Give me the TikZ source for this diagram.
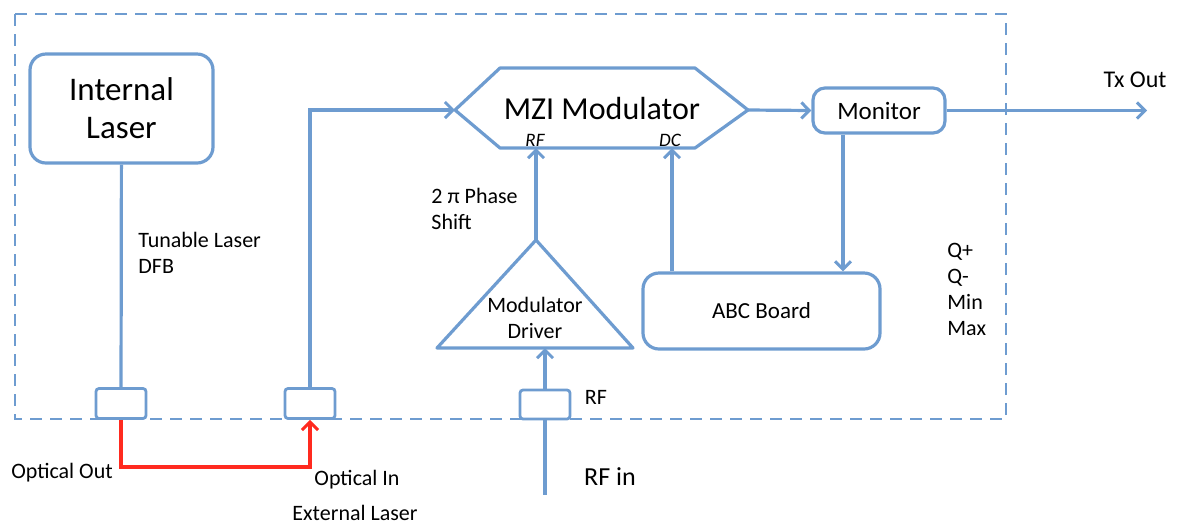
\documentclass[tikz,border=0pt]{standalone}
\usepackage{fontspec}
\setmainfont{Carlito}
\usetikzlibrary{arrows.meta,positioning,calc}
\definecolor{lnBlue}{HTML}{6E9CD0}
\definecolor{lnRed}{HTML}{FF2A1F}

\begin{document}
\begin{tikzpicture}[x=0.5pt, y=-0.5pt,
  blk/.style={draw=lnBlue, line width=1.6pt, rounded corners=8pt, align=center, inner sep=0pt},
  port/.style={draw=lnBlue, line width=1.4pt, rounded corners=1.5pt, minimum width=25pt, minimum height=15pt, inner sep=0pt},
  wire/.style={line width=1.6pt, lnBlue},
  arr/.style={wire, -{Straight Barb[length=4pt, width=8pt, line width=1.5pt]}},
  lbl/.style={font=\fontsize{11}{13}\selectfont, align=left, inner sep=0pt},
  frm/.style={draw=lnBlue, line width=1.2pt, dash pattern=on 6pt off 4pt}]
\useasboundingbox (0,0) rectangle (1178,527);
\draw[frm] (15,14) rectangle (1006,419);

% blocks
\node[blk, minimum width=91.5pt, minimum height=54.5pt, font=\fontsize{16.5}{19}\selectfont] (laser) at (121.5,108.5) {Internal\\Laser};
\node[blk, minimum width=66pt, minimum height=22.5pt, rounded corners=6pt, font=\fontsize{12.5}{14}\selectfont] (mon) at (879,110.5) {Monitor};
\node[blk, minimum width=118.5pt, minimum height=38pt, font=\fontsize{11.5}{13}\selectfont] (abc) at (761.5,311) {ABC Board};
\node[port] (pOut) at (121,403.5) {};
\node[port] (pIn) at (310,403.5) {};
\node[port, minimum height=14.5pt] (pRF) at (545,404.5) {};

% MZI modulator
\coordinate (mziW) at (455,110);
\coordinate (mziE) at (748,110);
\coordinate (mziRF) at (536,148);
\coordinate (mziDC) at (672,148);
\draw[wire, line join=round] (mziW) -- (500,68) -- (695,68) -- (mziE) -- (695,148) -- (500,148) -- cycle;
\node[font=\fontsize{16}{18}\selectfont] (mzi) at (602,108) {MZI Modulator};
\node[font=\fontsize{9.5}{10}\itshape] (rfIn) at (535,140) {RF};
\node[font=\fontsize{9.5}{10}\itshape] (dcIn) at (670,140) {DC};

% driver
\coordinate (drvTop) at (536,240);
\coordinate (drvB) at (545,348);
\draw[wire, line join=round] (drvTop) -- (633,348) -- (437,348) -- cycle;
\node[align=center, font=\fontsize{11}{13}\selectfont] (drv) at (535,318) {Modulator\\Driver};

% connectors
\coordinate (fbX) at (843,0);
\coordinate (txEnd) at (1147,110.5);
\coordinate (rfEnd) at (545,495);
\draw[wire] (laser) -- (pOut);
\draw[arr] (pIn.north) |- (mziW);
\draw[arr] (drvTop) -- (mziRF);
\draw[arr] (abc.north -| mziDC) -- (mziDC);
\draw[arr] (pRF.north) -- (drvB);
\draw[wire] (pRF.south) -- (rfEnd);
\draw[arr] (mziE) -- (mon.west);
\draw[arr] (mon.south -| fbX) -- (abc.north -| fbX);
\draw[arr] (mon.east) -- (txEnd);
\draw[arr, lnRed] (pOut.south) -- ++(0,47) -| (pIn.south);

% labels
\node[lbl, anchor=west] (tun) at (138,253) {Tunable Laser\\DFB};
\node[lbl, anchor=west] (phs) at (431,209) {2 π Phase\\Shift};
\node[lbl, anchor=west] (qs) at (947,289) {Q+\\Q-\\Min\\Max};
\node[lbl, font=\fontsize{12}{14}\selectfont] (tx) at (1135,80) {Tx Out};
\node[lbl] (oOut) at (62,473) {Optical Out};
\node[lbl] (oIn) at (357,480) {Optical In};
\node[lbl] (ext) at (355,513) {External Laser};
\node[lbl] (rfLbl) at (596,397) {RF};
\node[lbl, font=\fontsize{13}{15}\selectfont] (rfin) at (610,477) {RF in};
\end{tikzpicture}
\end{document}
